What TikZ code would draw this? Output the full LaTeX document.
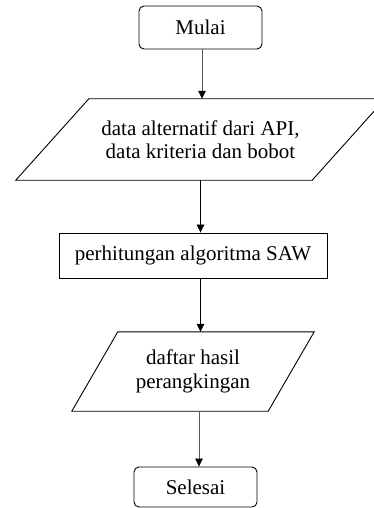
\documentclass[tikz,border=0pt]{standalone}
\usepackage{fontspec}
\setmainfont{Liberation Serif}
\usetikzlibrary{arrows.meta}
\begin{document}
\begin{tikzpicture}[x=1pt,y=-1pt,
  every node/.style={font=\fontsize{21}{23.5}\selectfont, inner sep=0pt, align=center},
  term/.style={draw, line width=0.9pt, rounded corners=5pt},
  proc/.style={draw, line width=0.9pt},
  io/.style={draw=none},
  para/.style={line width=0.9pt},
  arr/.style={line width=0.8pt, -{Triangle[width=7.5pt,length=8pt]}},
  arrg/.style={arr, draw=black!65, -{Triangle[width=7.5pt,length=8pt,fill=black,color=black]}}]
\useasboundingbox (0,0) rectangle (374,508);
% nodes
\node[term, minimum width=123pt, minimum height=43pt] (mulai) at (200.5,27.5) {Mulai};
\node[io, minimum width=296pt, minimum height=81pt] (in1) at (200.5,139.5) {data alternatif dari API,\\data kriteria dan bobot};
\node[proc, minimum width=268pt, minimum height=45pt] (saw) at (193,255.5) {perhitungan algoritma SAW};
\node[io, minimum width=196pt, minimum height=79pt] (out) at (193,371.5) {daftar hasil\\perangkingan};
\node[term, minimum width=123pt, minimum height=40pt] (selesai) at (195.5,487) {Selesai};
% parallelograms
\draw[para] ([xshift=36.5pt]in1.north west) -- ([xshift=36.5pt]in1.north east)
  -- ([xshift=-36.5pt]in1.south east) -- ([xshift=-36.5pt]in1.south west) -- cycle;
\draw[para] ([xshift=23pt]out.north west) -- ([xshift=23pt]out.north east)
  -- ([xshift=-23pt]out.south east) -- ([xshift=-23pt]out.south west) -- cycle;
% connectors
\draw[arrg] ([xshift=1.5pt]mulai.south) -- ([xshift=1.5pt]mulai.south |- in1.north);
\draw[arr] (in1.south) -- (in1.south |- saw.north);
\draw[arr] (in1.south |- saw.south) -- (in1.south |- out.north);
\draw[arrg] ([xshift=-1.5pt]in1.south |- out.south) -- ([xshift=-1.5pt]in1.south |- selesai.north);
\end{tikzpicture}
\end{document}
